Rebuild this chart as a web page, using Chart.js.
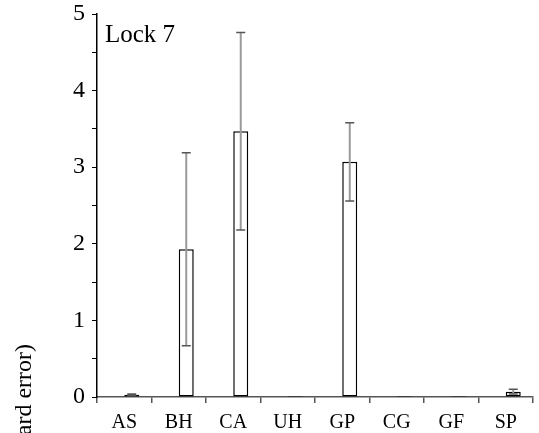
<!DOCTYPE html>
<html>
<head>
<meta charset="utf-8">
<script src="https://cdn.jsdelivr.net/npm/chart.js@4"></script>
<style>
    html, body { margin: 0; padding: 0; background: #fff; }
    #wrap { width: 539px; height: 433px; position: relative; }
</style>
</head>
<body>
<div id="wrap"><canvas id="chartLock"></canvas></div>
<script>
// dados
let categorias = ['AS', 'BH', 'CA', 'UH', 'GP', 'CG', 'GF', 'SP'];
let medias = [0.03, 1.93, 3.47, 0.005, 3.07, 0.005, 0, 0.07];
let erros = [0.01, 1.26, 1.29, 0, 0.51, 0, 0, 0.03];
let ticksY = [0, 1, 2, 3, 4, 5];
let painelLabel = 'Lock 7';
let tituloY = 'Density (\u00b1 standard error)';

let fonte = '"Liberation Serif", "Times New Roman", serif';

const errorBars = {
    id: 'errorBars',
    afterDatasetsDraw(chart) {
        let ctx = chart.ctx;
        let meta = chart.getDatasetMeta(1);
        let y = chart.scales.y;
        ctx.save();
        meta.data.forEach((bar, i) => {
            if (!erros[i]) return;
            let x = bar.x;
            let top = y.getPixelForValue(medias[i] + erros[i]);
            let bot = y.getPixelForValue(medias[i] - erros[i]);
            ctx.strokeStyle = '#9a9a9a';
            ctx.lineWidth = 2;
            ctx.beginPath();
            ctx.moveTo(x, top);
            ctx.lineTo(x, bot);
            ctx.stroke();
            ctx.strokeStyle = '#555';
            ctx.lineWidth = 1.5;
            ctx.beginPath();
            ctx.moveTo(x - 4.5, top); ctx.lineTo(x + 4.5, top);
            ctx.moveTo(x - 4.5, bot); ctx.lineTo(x + 4.5, bot);
            ctx.stroke();
        });
        ctx.restore();
    }
};

const textos = {
    id: 'textos',
    afterDraw(chart) {
        let ctx = chart.ctx;
        ctx.save();
        ctx.fillStyle = '#000';
        ctx.font = '25px ' + fonte;
        ctx.textBaseline = 'alphabetic';
        ctx.textAlign = 'left';
        ctx.fillText(painelLabel, 105, 42);

        ctx.translate(31, 344);
        ctx.rotate(-Math.PI / 2);
        ctx.font = '24px ' + fonte;
        ctx.textAlign = 'right';
        ctx.fillText(tituloY, 0, 0);
        ctx.restore();
    }
};

new Chart(document.getElementById('chartLock'), {
    type: 'bar',
    data: {
        labels: categorias,
        datasets: [
            { label: 'vazio', data: categorias.map(() => null), backgroundColor: 'rgba(0,0,0,0)', borderWidth: 0 },
            { label: painelLabel, data: medias, backgroundColor: '#fff', borderColor: '#000', borderWidth: 1.5, borderSkipped: false, minBarLength: 1 }
        ]
    },
    options: {
        responsive: true,
        maintainAspectRatio: false,
        animation: false,
        events: [],
        categoryPercentage: 0.55,
        barPercentage: 1,
        layout: { padding: { left: 0, top: 14, right: 6, bottom: 0 } },
        plugins: {
            legend: { display: false },
            tooltip: { enabled: false },
            title: { display: false }
        },
        scales: {
            x: {
                afterFit: s => { s.height = 36; },
                border: { color: '#555', width: 1.5 },
                grid: { display: true, offset: true, drawOnChartArea: false, drawTicks: true, tickLength: 6, color: '#555', lineWidth: 1.5 },
                ticks: { color: '#000', font: { family: fonte, size: 20 }, padding: 8, maxRotation: 0 }
            },
            y: {
                min: 0,
                max: 5,
                afterFit: s => { s.width = 97; s.paddingTop = 0; s.paddingBottom = 0; },
                border: { color: '#000', width: 1.5 },
                grid: { display: true, drawOnChartArea: false, drawTicks: true, tickLength: 5, color: '#000', lineWidth: 1 },
                ticks: {
                    stepSize: 0.5,
                    color: '#000',
                    font: { family: fonte, size: 24 },
                    padding: 7,
                    callback: v => ticksY.includes(v) ? String(v) : ''
                }
            }
        }
    },
    plugins: [errorBars, textos]
});
</script>
</body>
</html>
